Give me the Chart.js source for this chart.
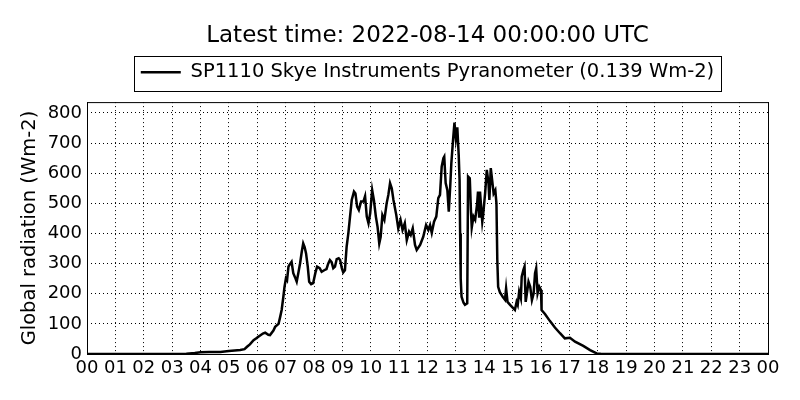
<!DOCTYPE html>
<html>
<head>
<meta charset="utf-8">
<script src="https://cdn.jsdelivr.net/npm/chart.js@4.4.1/dist/chart.umd.min.js"></script>
<style>
  body { margin: 0; background: #fff; }
</style>
</head>
<body>
<canvas id="myChart" width="800" height="400"></canvas>
<script>
const ctx = document.getElementById('myChart');

// hours since 00 UTC
const times = [0, 3.0, 3.5, 3.8, 4.0, 4.3, 4.7, 5.0, 5.4, 5.55, 5.64, 5.74, 5.87, 5.98, 6.05, 6.2, 6.28, 6.39, 6.45, 6.57, 6.63, 6.75, 6.8, 6.86, 6.92, 6.96,
  7.01, 7.05, 7.1, 7.13, 7.21, 7.27, 7.33, 7.39, 7.45, 7.51, 7.57, 7.62, 7.67, 7.72, 7.78, 7.83, 7.9, 7.97,
  8.05, 8.11, 8.2, 8.27, 8.36, 8.44, 8.5, 8.56, 8.62, 8.68, 8.74, 8.8, 8.87, 8.92, 8.98,
  9.03, 9.09, 9.15, 9.21, 9.27, 9.33, 9.41, 9.46, 9.52, 9.58, 9.66, 9.74, 9.8, 9.86, 9.92, 9.98,
  10.05, 10.11, 10.18, 10.24, 10.3, 10.35, 10.41, 10.48, 10.56, 10.62, 10.68, 10.74, 10.8, 10.9, 10.97,
  11.05, 11.12, 11.2, 11.27, 11.35, 11.41, 11.48, 11.56, 11.62, 11.74, 11.85, 11.95,
  12.03, 12.09, 12.15, 12.23, 12.31, 12.38, 12.44, 12.5, 12.56, 12.59, 12.64, 12.7, 12.75, 12.8, 12.84, 12.9, 12.95,
  13.0, 13.05, 13.1, 13.13, 13.15, 13.17, 13.2, 13.27, 13.32, 13.4, 13.43, 13.49, 13.53, 13.56, 13.62, 13.68, 13.75, 13.78, 13.82, 13.85, 13.89, 13.93, 13.96,
  14.03, 14.09, 14.15, 14.18, 14.23, 14.29, 14.33, 14.39, 14.43, 14.46, 14.49, 14.55, 14.65, 14.73, 14.77, 14.82, 14.91,
  15.02, 15.08, 15.14, 15.18, 15.23, 15.29, 15.32, 15.38, 15.42, 15.46, 15.52, 15.56, 15.62, 15.68, 15.74, 15.79, 15.83, 15.88, 15.94,
  16.0, 16.02, 16.14, 16.31, 16.49, 16.67, 16.84, 17.02, 17.2, 17.49, 17.73, 17.96, 18.1, 18.5, 24];

const radiation = [0, 0, 1, 3, 6, 7, 7, 10, 13, 16, 24, 32, 46, 53, 58, 68, 71, 64, 63, 78, 90, 100, 120, 146, 190, 223,
  251, 245, 290, 295, 306, 268, 255, 240, 270, 301, 340, 367, 355, 334, 290, 240, 232, 235,
  270, 290, 285, 273, 278, 282, 300, 312, 305, 285, 290, 315, 318, 312, 285,
  271, 278, 356, 400, 456, 511, 539, 533, 489, 478, 506, 506, 524, 456, 434, 467,
  544, 511, 456, 422, 367, 389, 461, 445, 500, 528, 567, 550, 511, 461, 417,
  445, 412, 434, 378, 406, 395, 417, 362, 345, 362, 389, 428,
  412, 428, 402, 439, 456, 517, 528, 622, 650, 655, 567, 544, 472, 555, 633, 710, 768,
  715, 752, 660, 578, 400, 250, 190, 170, 163, 168, 589, 583, 478, 420, 456, 445, 500, 539, 456, 539, 489, 439, 461,
  533, 611, 567, 511, 617, 567, 533, 544, 500, 312, 223, 205, 190, 180, 218, 173, 163,
  152, 146, 173, 163, 207, 185, 257, 279, 290, 173, 212, 240, 223, 179, 201, 268, 284, 201, 223,
  212, 146, 133, 110, 88, 69, 52, 54, 41, 27, 13, 2, 0.5, 0, 0];

const hourTicks = ['00', '01', '02', '03', '04', '05', '06', '07', '08', '09', '10', '11',
  '12', '13', '14', '15', '16', '17', '18', '19', '20', '21', '22', '23', '00'];

const seriesLabel = 'SP1110 Skye Instruments Pyranometer (0.139 Wm-2)';
const yMax = 836;

const font = 'DejaVu Sans';

// centre title + legend over the axes and draw the frame / legend box
const frame = {
  id: 'frame',
  afterLayout(chart) {
    const a = chart.chartArea;
    [chart.titleBlock, chart.legend].forEach(b => { if (b) { b.left = a.left; b.right = a.right; } });
  },
  afterDraw(chart) {
    const c = chart.ctx;
    const a = chart.chartArea;
    c.save();
    c.strokeStyle = '#000';
    c.lineWidth = 1;
    c.strokeRect(a.left + 0.5, a.top + 0.5, a.right - a.left, a.bottom - a.top);
    const hb = chart.legend.legendHitBoxes[0];
    if (hb) {
      c.strokeRect(Math.round(hb.left - 7) + 0.5, Math.round(hb.top - 7) + 0.5, Math.round(hb.width + 14), 35);
    }
    c.restore();
  }
};

const data = {
  datasets: [{
    label: seriesLabel,
    data: times.map((t, i) => ({ x: t, y: radiation[i] })),
    borderColor: '#000',
    backgroundColor: '#000',
    borderWidth: 2.5,
    pointRadius: 0,
    tension: 0
  }]
};

const config = {
  type: 'line',
  data: data,
  options: {
    responsive: false,
    animation: false,
    layout: { padding: { left: 0, right: 32, top: 0, bottom: 0 } },
    plugins: {
      title: {
        display: true,
        text: 'Latest time: 2022-08-14 00:00:00 UTC',
        color: '#000',
        font: { family: font, size: 23, weight: 'normal', lineHeight: 1.2 },
        padding: { top: 22, bottom: 3 }
      },
      legend: {
        display: true,
        labels: {
          color: '#000',
          font: { family: font, size: 19.5 },
          usePointStyle: true,
          pointStyle: 'line',
          pointStyleWidth: 40,
          padding: 10
        }
      },
      tooltip: { enabled: false }
    },
    scales: {
      x: {
        type: 'linear',
        min: 0,
        max: 24,
        afterFit: s => { s.height = 46; },
        ticks: {
          stepSize: 1,
          autoSkip: false,
          maxRotation: 0,
          padding: 4,
          color: '#000',
          font: { family: font, size: 18 },
          callback: v => hourTicks[v]
        },
        grid: { color: '#000', lineWidth: 1, drawTicks: false },
        border: { display: false, dash: [1, 3] }
      },
      // empty top axis, only keeps a gap under the legend
      top: {
        type: 'linear',
        position: 'top',
        afterFit: s => { s.height = 10; },
        ticks: { display: false },
        grid: { display: false },
        border: { display: false }
      },
      y: {
        min: 0,
        max: yMax,
        afterFit: s => { s.width = 87; },
        ticks: {
          stepSize: 100,
          includeBounds: false,
          padding: 5,
          color: '#000',
          font: { family: font, size: 18 }
        },
        title: {
          display: true,
          text: 'Global radiation (Wm-2)',
          color: '#000',
          font: { family: font, size: 19.5 },
          padding: { top: 18, bottom: 0 }
        },
        grid: { color: '#000', lineWidth: 1, drawTicks: false },
        border: { display: false, dash: [1, 3] }
      }
    }
  },
  plugins: [frame]
};

new Chart(ctx, config);
</script>
</body>
</html>
